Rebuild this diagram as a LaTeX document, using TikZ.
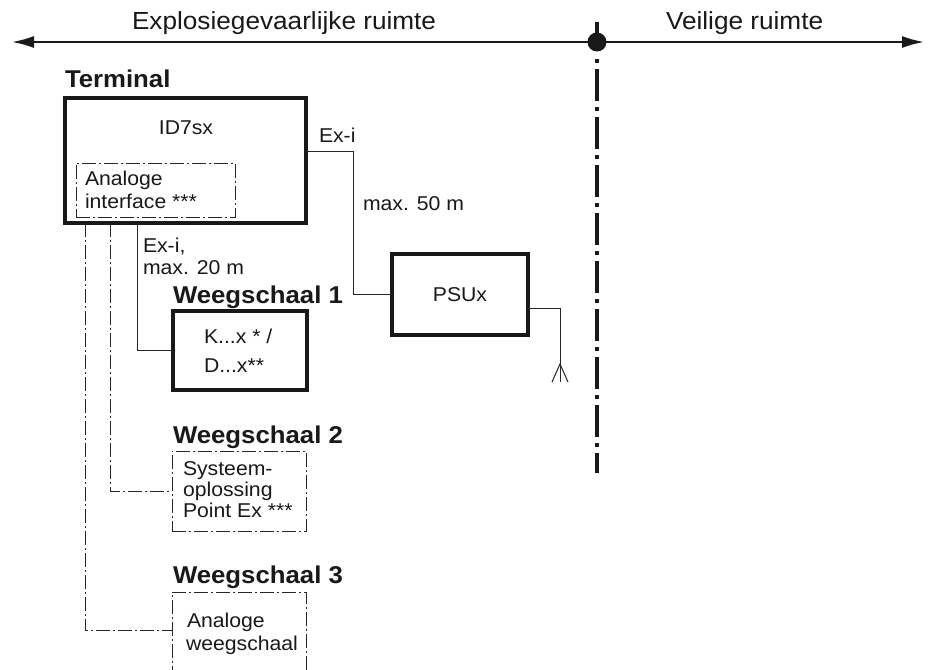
\documentclass[tikz,border=0pt]{standalone}
\usepackage{fontspec}
\setmainfont{Liberation Sans}[FakeStretch=1.06]
\usetikzlibrary{arrows.meta,calc}
\tikzset{
  hdrfont/.style={font=\fontsize{24.7}{28}\selectfont},
  bodyfont/.style={font=\fontsize{20}{22}\selectfont},
  boldfont/.style={font=\fontsize{24.3}{28}\selectfont\bfseries},
  txt/.style={inner sep=0pt, outer sep=0pt, anchor=base west, text=black!90},
  thickbox/.style={draw=black!90, line width=3.5pt, rectangle, inner sep=0pt, outer sep=0pt},
  dashbox/.style={draw=black!85, line width=0.9pt, rectangle, inner sep=0pt, outer sep=0pt,
     dash pattern=on 14pt off 3pt on 2pt off 3pt},
  thinline/.style={draw=black!85, line width=1pt},
  dashline/.style={draw=black!85, line width=0.9pt, dash pattern=on 14pt off 3pt on 2pt off 3pt},
}
\begin{document}
\begin{tikzpicture}[x=1pt,y=-1pt]
\useasboundingbox (0,0) rectangle (936,669);
\clip (0,0) rectangle (936,669);
\fill[white] (0,0) rectangle (936,669);

% header
\coordinate (hl) at (12,42);
\coordinate (hr) at (924,42);
\coordinate (vtop) at (597,22);
\coordinate (vs) at (597,53);
\coordinate (ve) at (597,473);
\draw[line width=2pt, black!90, {Latex[length=22pt,width=12pt]}-{Latex[length=22pt,width=12pt]}] (hl) -- (hr);
\node[circle, fill=black!90, minimum size=19pt, inner sep=0pt] (dot) at (597,42) {};
\draw[line width=4pt, black!90] (vtop) -- (dot.center);
\draw[line width=4pt, black!90, dash pattern=on 32pt off 6pt on 4pt off 6pt, dash phase=32pt] (vs) -- (ve);
\node[txt, hdrfont] (hdrL) at (132,30) {Explosiegevaarlijke ruimte};
\node[txt, hdrfont] (hdrR) at (666,30) {Veilige ruimte};

% terminal
\node[txt, boldfont] (tlab) at (65,87) {Terminal};
\node[thickbox, minimum width=241pt, minimum height=125pt] (term) at (185.5,160.5) {};
\node[txt, bodyfont, anchor=base] (idtext) at (186,134) {ID7sx};
\node[dashbox, minimum width=159pt, minimum height=54pt] (ai) at (155.5,190) {};
\node[txt, bodyfont] (ai1) at (85,185) {Analoge};
\node[txt, bodyfont] (ai2) at (85,208) {interface ***};

% PSU
\node[thickbox, minimum width=136pt, minimum height=81pt] (psu) at (460,294.5) {};
\node[txt, bodyfont, anchor=base] (psut) at (460,301) {PSUx};
\node[txt, bodyfont] (exi) at (319,142) {Ex-i};
\node[txt, bodyfont] (max50) at (363,210) {max. 50 m};
\draw[thinline] ([yshift=9.5pt]term.east) -- ++(47,0) |- (psu.west);
\coordinate (gnd) at (560,382);
\draw[thinline] ([yshift=-13.5pt]psu.east) -| (gnd);
\draw[thinline] ($(gnd)+(-8,0)$) -- ($(gnd)+(0,-18)$) -- ($(gnd)+(8,0)$);

% Weegschaal 1
\node[txt, boldfont] (w1lab) at (173,303) {Weegschaal 1};
\node[thickbox, minimum width=134pt, minimum height=79pt] (w1) at (240,350.5) {};
\node[txt, bodyfont] (k1) at (204,343) {K...x * /};
\node[txt, bodyfont] (k2) at (204,372) {D...x**};
\node[txt, bodyfont] (exi2a) at (143,252) {Ex-i,};
\node[txt, bodyfont] (exi2b) at (143,274) {max. 20 m};
\draw[thinline] ([xshift=72pt]term.south west) |- (w1.west);

% Weegschaal 2
\node[txt, boldfont] (w2lab) at (173,443) {Weegschaal 2};
\node[dashbox, minimum width=134pt, minimum height=80pt] (w2) at (239,491) {};
\node[txt, bodyfont] (s1) at (183,475) {Systeem-};
\node[txt, bodyfont] (s2) at (183,496) {oplossing};
\node[txt, bodyfont] (s3) at (183,517) {Point Ex ***};
\draw[dashline] ([xshift=45pt]term.south west) |- (w2.west);

% Weegschaal 3
\node[txt, boldfont] (w3lab) at (173,583) {Weegschaal 3};
\node[dashbox, minimum width=134pt, minimum height=120pt] (w3) at (239,652) {};
\node[txt, bodyfont] (a1) at (187,627) {Analoge};
\node[txt, bodyfont] (a2) at (186,650) {weegschaal};
\draw[dashline] ([xshift=20pt]term.south west) |- ([yshift=-38pt]w3.north west);
\end{tikzpicture}
\end{document}
